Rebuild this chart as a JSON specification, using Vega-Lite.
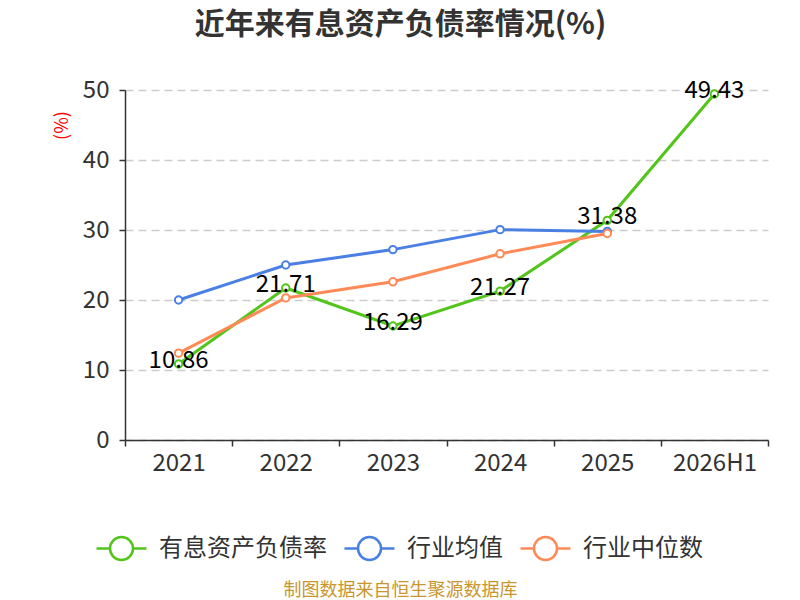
{
  "$schema": "https://vega.github.io/schema/vega-lite/v6.json",
  "width": 643,
  "height": 350,
  "autosize": {"type": "none"},
  "padding": {"left": 125, "top": 90, "right": 32, "bottom": 160},
  "background": "white",
  "config": {
    "font": "Noto Sans CJK SC",
    "view": {"stroke": null}
  },
  "title": {
    "text": "近年来有息资产负债率情况(%)",
    "fontSize": 30,
    "fontWeight": "bold",
    "color": "#333333",
    "anchor": "middle",
    "frame": "group",
    "dx": -46,
    "offset": 38
  },
  "data": {
    "values": [
      {"year": "2021", "series": "有息资产负债率", "value": 10.86},
      {"year": "2022", "series": "有息资产负债率", "value": 21.71},
      {"year": "2023", "series": "有息资产负债率", "value": 16.29},
      {"year": "2024", "series": "有息资产负债率", "value": 21.27},
      {"year": "2025", "series": "有息资产负债率", "value": 31.38},
      {"year": "2026H1", "series": "有息资产负债率", "value": 49.43},
      {"year": "2021", "series": "行业均值", "value": 20.0},
      {"year": "2022", "series": "行业均值", "value": 25.0},
      {"year": "2023", "series": "行业均值", "value": 27.2},
      {"year": "2024", "series": "行业均值", "value": 30.05},
      {"year": "2025", "series": "行业均值", "value": 29.8},
      {"year": "2021", "series": "行业中位数", "value": 12.4},
      {"year": "2022", "series": "行业中位数", "value": 20.3},
      {"year": "2023", "series": "行业中位数", "value": 22.6},
      {"year": "2024", "series": "行业中位数", "value": 26.6},
      {"year": "2025", "series": "行业中位数", "value": 29.5}
    ]
  },
  "encoding": {
    "x": {
      "field": "year",
      "type": "nominal",
      "sort": ["2021", "2022", "2023", "2024", "2025", "2026H1"],
      "scale": {"type": "band", "paddingInner": 0, "paddingOuter": 0, "domain": ["2021", "2022", "2023", "2024", "2025", "2026H1"]},
      "axis": {
        "title": "制图数据来自恒生聚源数据库",
        "titleColor": "#C8962E",
        "titleFontSize": 18,
        "titleFontWeight": "normal",
        "titleX": 275,
        "titleY": 150,
        "titleBaseline": "middle",
        "titleAlign": "center",
        "labelAngle": 0,
        "labelFontSize": 24,
        "labelColor": "#333333",
        "labelPadding": 5,
        "domainColor": "#333333",
        "domainWidth": 1.5,
        "tickColor": "#333333",
        "tickWidth": 1.5,
        "tickSize": 6,
        "tickBand": "extent",
        "grid": false
      }
    },
    "y": {
      "field": "value",
      "type": "quantitative",
      "scale": {"domain": [0, 50], "nice": false},
      "axis": {
        "title": "(%)",
        "titleColor": "#FF0000",
        "titleFontSize": 18,
        "titleFontWeight": "normal",
        "titleX": -63,
        "titleY": 35,
        "titleAlign": "center",
        "titleBaseline": "middle",
        "values": [0, 10, 20, 30, 40, 50],
        "labelFontSize": 24,
        "labelColor": "#333333",
        "labelPadding": 10,
        "domainColor": "#333333",
        "domainWidth": 1.5,
        "tickColor": "#333333",
        "tickWidth": 1.5,
        "tickSize": 6,
        "grid": true,
        "gridColor": "#CCCCCC",
        "gridWidth": 1.5,
        "gridDash": [8, 5]
      }
    }
  },
  "layer": [
    {
      "mark": {
        "type": "line",
        "strokeWidth": 3,
        "point": {"filled": false, "fill": "white", "size": 55, "strokeWidth": 2}
      },
      "encoding": {
        "color": {
          "field": "series",
          "type": "nominal",
          "sort": ["有息资产负债率", "行业均值", "行业中位数"],
          "scale": {"domain": ["有息资产负债率", "行业均值", "行业中位数"], "range": ["#52C41A", "#4A7FE3", "#FF8A57"]},
          "legend": {
            "title": null,
            "orient": "none",
            "direction": "horizontal",
            "legendX": -30,
            "legendY": 432,
            "labelFontSize": 24,
            "labelLimit": 400,
            "labelColor": "#333333",
            "symbolType": "M-1,0L-0.46,0M0.46,0A0.46,0.46,0,1,1,-0.46,0A0.46,0.46,0,1,1,0.46,0M0.46,0L1,0",
            "symbolSize": 2500,
            "symbolStrokeWidth": 2.5,
            "labelOffset": 11,
            "columnPadding": 12,
            "encode": {
              "symbols": {"update": {"fill": {"value": "white"}, "strokeWidth": {"value": 2.5}}}
            }
          }
        }
      }
    },
    {
      "transform": [{"filter": "datum.series === '有息资产负债率'"}],
      "mark": {"type": "text", "fontSize": 24, "dy": -3, "color": "#000000", "baseline": "middle", "align": "center"},
      "encoding": {
        "text": {"field": "value", "type": "quantitative", "format": ".2f"}
      }
    }
  ]
}
